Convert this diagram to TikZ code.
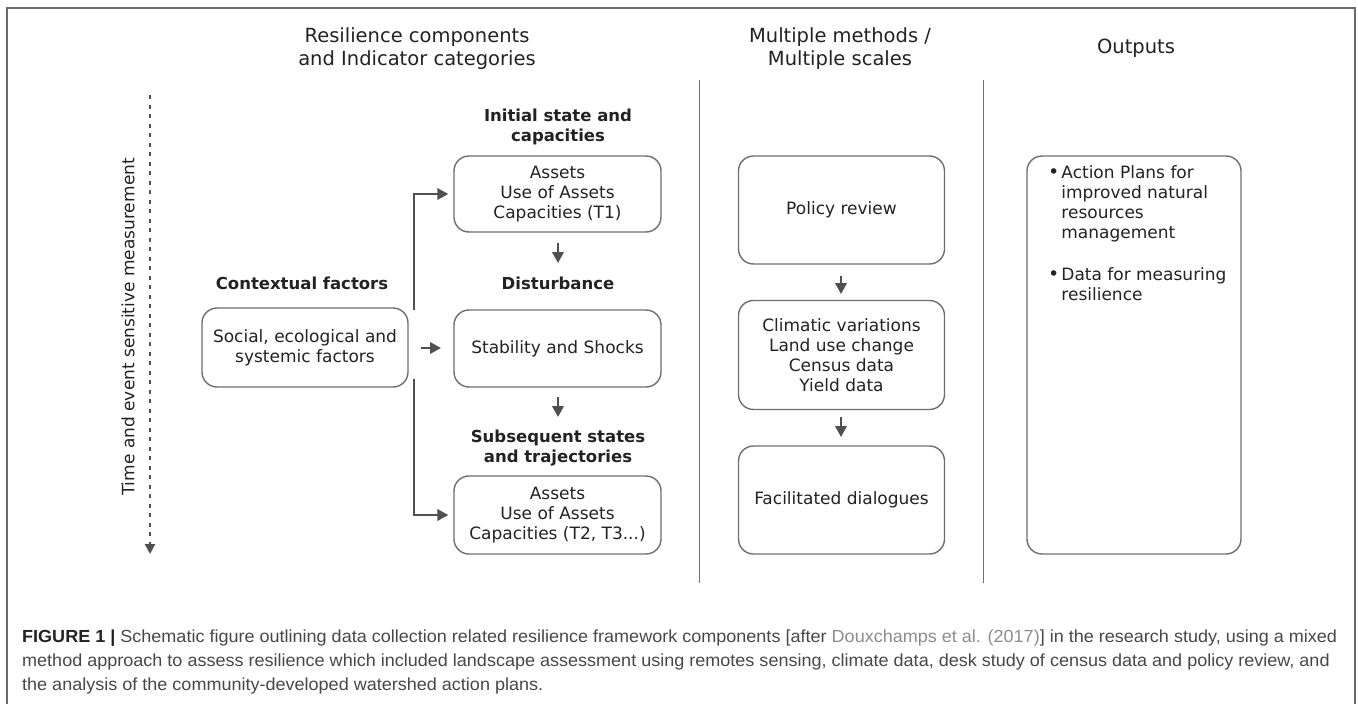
\documentclass[tikz,border=0pt]{standalone}
\usepackage{fontspec}
\setmainfont{DejaVu Sans}
\newfontfamily\capfont[FakeStretch=1.03]{Liberation Sans}
\usetikzlibrary{arrows.meta,positioning}
\definecolor{boxline}{HTML}{6E6E6E}
\definecolor{arrowc}{HTML}{505050}
\definecolor{txt}{HTML}{222222}
\definecolor{captxt}{HTML}{474747}
\definecolor{citec}{HTML}{8C8C8C}
\definecolor{framec}{HTML}{6A6A6A}
\tikzset{
  rbox/.style={draw=boxline, line width=1.4pt, rounded corners=15pt, align=center, text=txt, inner sep=0pt},
  btxt/.style={font=\fontsize{17}{20}\selectfont, text=txt, align=center},
  hdr/.style={font=\fontsize{19.5}{23}\selectfont, text=txt, align=center},
  blbl/.style={font=\bfseries\fontsize{16.5}{19.5}\selectfont, text=txt, align=center},
  arr/.style={draw=arrowc, line width=2.2pt, -{Triangle[length=11pt,width=11.5pt]}},
  sep/.style={draw=boxline, line width=1.2pt},
  capline/.style={anchor=base west, inner sep=0pt, text=captxt, font=\capfont\fontsize{17.5}{24.3}\selectfont},
}
\begin{document}
\begin{tikzpicture}[x=1pt,y=-1pt]
\useasboundingbox (0,0) rectangle (1358,704);
% frame
\draw[framec, line width=1.8pt] (7,704) -- (7,8) -- (1355,8) -- (1355,704);
% headers
\node[hdr] (h1) at (417,49) {Resilience components\\and Indicator categories};
\node[hdr] (h2) at (840,49) {Multiple methods /\\Multiple scales};
\node[hdr] (h3) at (1136,48.5) {Outputs};
% separators
\coordinate (s1t) at (699.5,80); \coordinate (s1b) at (699.5,583);
\coordinate (s2t) at (983.5,80); \coordinate (s2b) at (983.5,583);
\draw[sep] (s1t) -- (s1b);
\draw[sep] (s2t) -- (s2b);
% time arrow
\coordinate (tt) at (150,95); \coordinate (tb) at (150,554);
\draw[draw=arrowc, line width=2.8pt, dash pattern=on 4pt off 5.5pt, -{Triangle[length=10pt,width=10pt]}] (tt) -- (tb);
\node[btxt, rotate=90] (time) at (128,327) {Time and event sensitive measurement};
% left column
\node[blbl] (l1) at (558,127) {Initial state and\\capacities};
\node[rbox, minimum width=207pt, minimum height=76pt, btxt] (b1) at (557.5,194) {Assets\\Use of Assets\\Capacities (T1)};
\node[blbl] (l2) at (558,283.5) {Disturbance};
\node[rbox, minimum width=207pt, minimum height=77pt, btxt] (b2) at (557.5,348.5) {Stability and Shocks};
\node[blbl] (l3) at (558,448) {Subsequent states\\and trajectories};
\node[rbox, minimum width=207pt, minimum height=78pt, btxt] (b3) at (557.5,515) {Assets\\Use of Assets\\Capacities (T2, T3...)};
\node[blbl] (l0) at (302,283.5) {Contextual factors};
\node[rbox, minimum width=206pt, minimum height=79pt, btxt] (ctx) at (305,347.5) {Social, ecological and\\systemic factors};
\coordinate (e1) at (414,310);
\coordinate (e2) at (414,379);
\draw[arr, shorten >=5pt] (e1) |- (b1.west);
\draw[arr, shorten >=5pt] (e2) |- (b3.west);
\coordinate (a0s) at (421,348); \coordinate (a0e) at (441,348);
\draw[arr] (a0s) -- (a0e);
\coordinate (a1s) at (558,243); \coordinate (a1e) at (558,263);
\draw[arr] (a1s) -- (a1e);
\coordinate (a2s) at (558,397); \coordinate (a2e) at (558,417);
\draw[arr] (a2s) -- (a2e);
% middle column
\node[rbox, minimum width=206pt, minimum height=108pt, btxt] (m1) at (841.5,210) {Policy review};
\node[rbox, minimum width=206pt, minimum height=109pt, btxt] (m2) at (841.5,355) {Climatic variations\\Land use change\\Census data\\Yield data};
\node[rbox, minimum width=206pt, minimum height=108pt, btxt] (m3) at (841.5,500) {Facilitated dialogues};
\coordinate (a3s) at (841,276); \coordinate (a3e) at (841,294);
\draw[arr] (a3s) -- (a3e);
\coordinate (a4s) at (841,417); \coordinate (a4e) at (841,437);
\draw[arr] (a4s) -- (a4e);
% outputs
\node[rbox, minimum width=214pt, minimum height=398pt] (o1) at (1134,355) {};
\node[btxt, anchor=base west, align=left, inner sep=0pt] (otext) at (1048,178.5) {%
\begin{tabular}[t]{@{}l@{\hspace{2pt}}l@{}}
{\fontsize{19}{20}\selectfont •} & Action Plans for\\
 & improved natural\\
 & resources\\
 & management\\[22pt]
{\fontsize{19}{20}\selectfont •} & Data for measuring\\
 & resilience
\end{tabular}};
% caption
\node[capline] (cap1) at (22,642) {{\bfseries\color{txt}FIGURE 1 |} Schematic figure outlining data collection related resilience framework components [after {\color{citec}Douxchamps et al. (2017)}] in the research study, using a mixed};
\node[capline] (cap2) at (22,666) {method approach to assess resilience which included landscape assessment using remotes sensing, climate data, desk study of census data and policy review, and};
\node[capline] (cap3) at (22,690) {the analysis of the community-developed watershed action plans.};
\end{tikzpicture}
\end{document}
